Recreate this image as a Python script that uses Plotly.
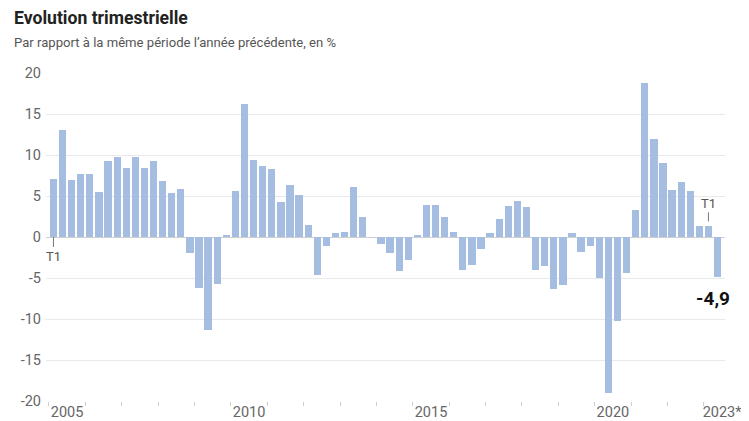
import plotly.graph_objects as go

years = list(range(2005, 2024))
quarters = []
for y in years:
    for q in range(1, 5):
        quarters.append((y, q))
quarters = quarters[:74]  # 2005T1 .. 2023T2

values = [
    7.1, 13.1, 7.0, 7.7,
    7.7, 5.5, 9.3, 9.7,
    8.4, 9.8, 8.4, 9.3,
    6.8, 5.4, 5.9, -2.0,
    -6.2, -11.4, -5.7, 0.2,
    5.6, 16.2, 9.4, 8.6,
    8.3, 4.3, 6.3, 5.1,
    1.5, -4.6, -1.1, 0.5,
    0.6, 6.1, 2.5, 0.0,
    -0.9, -2.0, -4.2, -2.8,
    0.2, 3.9, 3.9, 2.4,
    0.6, -4.0, -3.4, -1.5,
    0.5, 2.2, 3.8, 4.4,
    3.7, -4.0, -3.5, -6.4,
    -5.9, 0.5, -1.8, -1.1,
    -5.0, -19.0, -10.3, -4.4,
    3.3, 18.8, 11.9, 9.0,
    5.7, 6.7, 5.6, 1.4,
    1.3, -4.9,
]

label_years = [2005, 2010, 2015, 2020, 2023]
label_texts = ["2005", "2010", "2015", "2020", "2023*"]
y_ticks = [-20, -15, -10, -5, 0, 5, 10, 15, 20]

x_pos = [y + (q - 0.5) / 4 for (y, q) in quarters]

FONT = "Roboto, Arial, sans-serif"
BAR = "#a4bde1"
XR = [2004.92, 2023.58]

fig = go.Figure()
fig.add_trace(go.Bar(x=x_pos, y=values, width=0.2, marker=dict(color=BAR, line=dict(width=0)),
                     showlegend=False, hoverinfo="skip"))
fig.add_trace(go.Scatter(x=[label_years[0] + 0.5], y=[0], xaxis="x2", mode="markers",
                         marker=dict(opacity=0), showlegend=False, hoverinfo="skip"))

# page body has an 8px margin: figure sized to fit the window exactly
fig.update_layout(
    width=741, height=413,
    margin=dict(l=38, r=24, t=65, b=20),
    paper_bgcolor="white", plot_bgcolor="white",
    font=dict(family=FONT, color="#666", size=13),
    bargap=0,
    xaxis=dict(range=XR, tickvals=years, ticktext=[""] * len(years),
               ticks="outside", ticklen=4, tickcolor="#cccccc", showgrid=False,
               zeroline=False, showline=False, fixedrange=True, automargin=False),
    xaxis2=dict(range=XR, overlaying="x", side="bottom", anchor="y",
                tickvals=[y + 0.5 for y in label_years], ticktext=label_texts,
                ticks="", ticklabelstandoff=0, showgrid=False, zeroline=False, showline=False,
                automargin=False, tickfont=dict(size=14.5, color="#666")),
    yaxis=dict(range=[-20, 20], tickvals=y_ticks, ticktext=[str(v) for v in y_ticks],
               showgrid=True, gridcolor="#e9e9e9", gridwidth=1, automargin=False,
               zeroline=True, zerolinecolor="#cfcfcf", zerolinewidth=1,
               ticks="", ticklabelstandoff=4, tickfont=dict(size=14.5, color="#666")),
    title=None,
)

fig.add_annotation(text="<b>Evolution trimestrielle</b>", xref="paper", yref="paper",
                   x=-0.050, y=1.0, xanchor="left", yanchor="top", yshift=67,
                   showarrow=False, font=dict(size=17.6, color="#222", family=FONT))
fig.add_annotation(text="Par rapport à la même période l\u2019année précédente, en %",
                   xref="paper", yref="paper", x=-0.050, y=1.0, xanchor="left",
                   yanchor="middle", yshift=31, showarrow=False,
                   font=dict(size=13.1, color="#555", family=FONT))

# T1 markers
fig.add_annotation(x=x_pos[0], y=0, text="T1", showarrow=True, arrowhead=0,
                   arrowwidth=1, arrowcolor="#777", ax=0, ay=19, standoff=0,
                   font=dict(size=13, color="#555", family=FONT))
fig.add_annotation(x=x_pos[72], y=values[72], text="T1", showarrow=True, arrowhead=0,
                   arrowwidth=1, arrowcolor="#777", ax=0, ay=-23, standoff=5,
                   font=dict(size=13, color="#555", family=FONT))

# last value label
fig.add_annotation(x=x_pos[-1], y=values[-1], text="<b>-4,9</b>", showarrow=False,
                   xanchor="center", yanchor="top", xshift=-5, yshift=-8,
                   font=dict(size=19, color="#111", family=FONT))

fig.write_html("out.html")
